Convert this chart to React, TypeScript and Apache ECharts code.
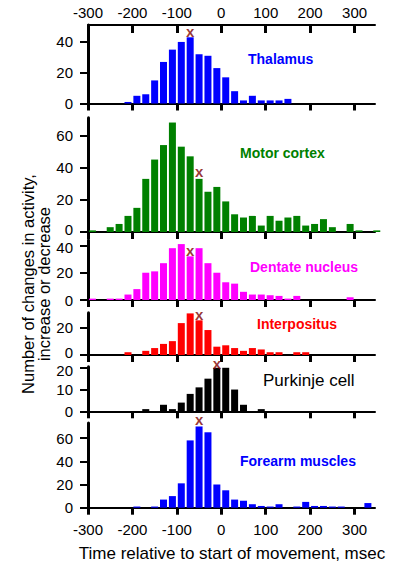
import React, { useEffect, useRef } from "react";
import * as echarts from "echarts";

// Bin centres (ms relative to start of movement), 20 ms bins
const bins = [-290, -270, -250, -230, -210, -190, -170, -150, -130, -110, -90, -70, -50, -30, -10, 10, 30, 50, 70, 90, 110, 130, 150, 170, 190, 210, 230, 250, 270, 290, 310, 330, 350];

const thalamus = [0, 0, 0, 0, 1, 5, 6, 15, 27, 35, 40, 43, 32, 31, 23, 17, 8, 2, 5, 2, 2, 2, 3, 0, 0, 0, 0, 0, 0, 0, 0, 0, 0];
const motorCortex = [1, 0, 3, 5, 10, 15, 33, 45, 54, 68, 53, 47, 33, 25, 28, 19, 11, 9, 10, 4, 10, 7, 9, 10, 4, 5, 8, 3, 0, 5, 1, 0, 1];
const dentate = [1, 0, 1, 1, 4, 8, 20, 21, 27, 38, 41, 32, 38, 27, 20, 13, 12, 6, 4, 4, 3.5, 3, 1, 3, 0, 0, 0, 0, 0, 2, 0, 0, 0];
const interpositus = [0, 0, 0, 0, 2, 0, 3, 5, 8, 10, 23, 30, 25, 18, 6, 7, 5, 3, 5, 4, 2, 2, 0, 2, 2, 0, 0, 0, 0, 0, 0, 0, 0];
const purkinje = [0, 0, 0, 0, 0, 0, 1, 0, 3, 1, 4, 8, 11, 15, 20, 20, 10, 3, 0, 1, 0, 0, 0, 0, 0, 0, 0, 0, 0, 0, 0, 0, 0];
const forearm = [0, 0, 0, 0, 0, 1, 0, 1, 7, 10, 21, 58, 70, 65, 20, 15, 7, 6, 3, 1.5, 1, 3, 0, 1, 5, 1.5, 1.5, 1, 1, 0, 0, 4, 0];

const panelNames = ["Thalamus", "Motor cortex", "Dentate nucleus", "Interpositus", "Purkinje cell", "Forearm muscles"];
const panelColors = ["#0000ff", "#008000", "#ff00ff", "#ff0000", "#000000", "#0000ff"];
const panelMax = [51, 71, 44, 30.5, 20.5, 73];
const yTicks = [[0, 20, 40], [0, 20, 40, 60], [0, 20, 40], [0, 20], [0, 10, 20], [0, 20, 40, 60]];
const xTicks = [-300, -200, -100, 0, 100, 200, 300];

// "x" marks above each histogram
const markX = [-70, -50, -70, -50, -10, -50];
const markY = [47, 37.5, 36.5, 29.3, 22.2, 75.6];

const seriesData = [thalamus, motorCortex, dentate, interpositus, purkinje, forearm];

// layout (px)
const gridTops = [25, 117.7, 240, 312.7, 366.7, 423];
const gridHeights = [78.5, 114.3, 60, 42.3, 44.6, 84.7];
const labelPos = [
  [248, 59], [240, 153], [250, 267], [257, 324], [263, 380], [240, 461],
];
// y labels nudged apart where adjacent panels' labels touch: [panel, value, dir]
const nudges: [number, number, string][] = [[1, 0, "up"], [2, 40, "dn"], [3, 0, "up"], [4, 20, "dn"]];

const FONT = "'Liberation Sans', Arial, sans-serif";

export default function App() {
  const ref = useRef<HTMLDivElement>(null);
  useEffect(() => {
    if (!ref.current) return;
    const chart = echarts.init(ref.current, null, { renderer: "svg" });

    const grids = gridTops.map((t, i) => ({
      left: 88, width: 287, top: t, height: gridHeights[i], containLabel: false,
    }));

    const xAxes: any[] = gridTops.map((_, i) => ({
      type: "value", gridIndex: i, min: -300, max: 346, position: "bottom",
      axisLine: { show: true, onZero: false, lineStyle: { color: "#000", width: 2 } },
      axisTick: { show: true, inside: false, length: 7, customValues: xTicks, lineStyle: { color: "#000", width: 3 } },
      axisLabel: { show: i === 5, customValues: xTicks, fontSize: 15, fontFamily: FONT, color: "#000", margin: 14 },
      splitLine: { show: false },
    }));
    xAxes.push({
      type: "value", gridIndex: 0, min: -300, max: 346, position: "top",
      axisLine: { show: true, onZero: false, lineStyle: { color: "#000", width: 2 } },
      axisTick: { show: true, inside: true, length: 8, customValues: xTicks, lineStyle: { color: "#000", width: 3 } },
      axisLabel: { show: true, customValues: xTicks, fontSize: 15, fontFamily: FONT, color: "#000", margin: 5 },
      splitLine: { show: false },
    });

    const richBase = { fontSize: 15, fontFamily: FONT, color: "#000" };
    const yAxes = gridTops.map((_, i) => ({
      type: "value", gridIndex: i, min: 0, max: panelMax[i],
      axisLine: { show: true, onZero: false, lineStyle: { color: "#000", width: 3 } },
      axisTick: { show: true, length: 8, customValues: yTicks[i], lineStyle: { color: "#000", width: 2 } },
      axisLabel: {
        show: true, customValues: yTicks[i], fontSize: 15,
        fontFamily: FONT, color: "#000", margin: 15,
        formatter: (v: number) => {
          const n = nudges.find((d) => d[0] === i && d[1] === v);
          return n ? `{${n[2]}|${v}}` : String(v);
        },
        rich: {
          up: { ...richBase, padding: [0, 0, 5, 0] },
          dn: { ...richBase, padding: [5, 0, 0, 0] },
        },
      },
      splitLine: { show: false },
    }));

    const series: any[] = [];
    seriesData.forEach((vals, i) => {
      series.push({
        type: "bar", xAxisIndex: i, yAxisIndex: i, barWidth: 7,
        itemStyle: { color: panelColors[i] },
        data: bins.map((b, k) => [b, vals[k]]).filter((d) => d[1] > 0),
      });
      series.push({
        type: "scatter", xAxisIndex: i, yAxisIndex: i, clip: false,
        symbol: "circle", symbolSize: 1, itemStyle: { color: "rgba(0,0,0,0)" },
        label: {
          show: true, position: "inside", formatter: "x", color: "#800000",
          fontSize: 15, fontWeight: "bold", fontFamily: FONT,
        },
        data: [[markX[i], markY[i]]],
      });
    });

    const graphics: any[] = panelNames.map((name, i) => ({
      type: "text", x: labelPos[i][0], y: labelPos[i][1],
      style: {
        text: name, fill: panelColors[i],
        font: i === 4 ? `17px ${FONT}` : `bold 14px ${FONT}`,
        textVerticalAlign: "middle", verticalAlign: "middle",
      },
    }));
    graphics.push({
      type: "text", x: 232, y: 553,
      style: {
        text: "Time relative to start of movement, msec", fill: "#000",
        font: `17px ${FONT}`,
        textAlign: "center", align: "center", textVerticalAlign: "middle", verticalAlign: "middle",
      },
    });
    graphics.push({
      type: "text", x: 36, y: 284, rotation: Math.PI / 2,
      style: {
        text: "Number of changes in activity,\nincrease or decrease", fill: "#000",
        font: `16.5px ${FONT}`, lineHeight: 16,
        textAlign: "center", align: "center", textVerticalAlign: "middle", verticalAlign: "middle",
      },
    });

    chart.setOption({
      animation: false,
      backgroundColor: "#fff",
      grid: grids,
      xAxis: xAxes,
      yAxis: yAxes,
      series,
      graphic: graphics,
    });
    return () => chart.dispose();
  }, []);

  return (
    <div
      ref={ref}
      style={{ position: "fixed", left: 0, top: 0, width: 401, height: 571, background: "#fff" }}
    />
  );
}
